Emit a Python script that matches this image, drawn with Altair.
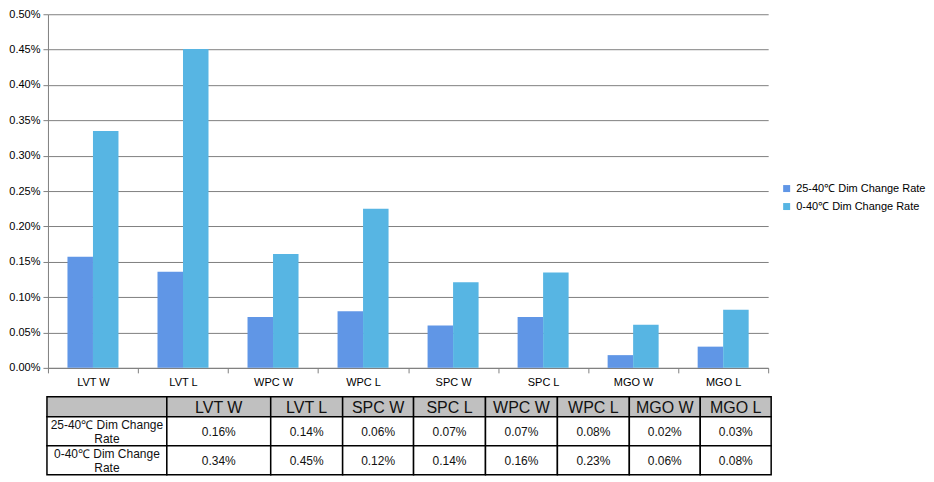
import altair as alt
import pandas as pd

# ---- data ----
categories = ["LVT W", "LVT L", "WPC W", "WPC L", "SPC W", "SPC L", "MGO W", "MGO L"]
series_names = ["25-40℃ Dim Change Rate", "0-40℃ Dim Change Rate"]
rate_25_40 = [0.157, 0.136, 0.072, 0.080, 0.060, 0.072, 0.018, 0.030]   # percent
rate_0_40 = [0.335, 0.451, 0.161, 0.225, 0.121, 0.135, 0.061, 0.082]    # percent
y_ticks = [0.0, 0.05, 0.10, 0.15, 0.20, 0.25, 0.30, 0.35, 0.40, 0.45, 0.50]

table_columns = ["LVT W", "LVT L", "SPC W", "SPC L", "WPC W", "WPC L", "MGO W", "MGO L"]
table_row_labels = ["25-40℃ Dim Change\nRate", "0-40℃ Dim Change\nRate"]
table_25_40 = [0.16, 0.14, 0.06, 0.07, 0.07, 0.08, 0.02, 0.03]
table_0_40 = [0.34, 0.45, 0.12, 0.14, 0.16, 0.23, 0.06, 0.08]

# ---- style ----
FONT = "Liberation Sans"
C1, C2 = "#6096E6", "#57B5E3"
GRID = "#808080"
col_widths = [120, 104, 72, 71, 72, 72, 72, 71, 71]
row_heights = [20, 29, 29]
shift = 1  # table starts this many px left of the plot origin

bars_df = pd.DataFrame({
    "category": categories * 2,
    "series": [series_names[0]] * len(categories) + [series_names[1]] * len(categories),
    "rate": rate_25_40 + rate_0_40,
})

bars = alt.Chart(bars_df).mark_bar().encode(
    x=alt.X("category:N", sort=categories,
            scale=alt.Scale(paddingInner=0, paddingOuter=0),
            axis=alt.Axis(title=None, labelAngle=0, tickBand="extent", tickSize=5,
                          labelPadding=4, domainColor=GRID, tickColor=GRID,
                          labelColor="black", labelFont=FONT, labelFontSize=11, grid=False)),
    xOffset=alt.XOffset("series:N", sort=series_names,
                        scale=alt.Scale(paddingInner=0, paddingOuter=0.765)),
    y=alt.Y("rate:Q", scale=alt.Scale(domain=[0, 0.5], nice=False, zero=True),
            axis=alt.Axis(title=None, values=y_ticks,
                          labelExpr="format(datum.value, '.2f') + '%'",
                          grid=True, gridColor=GRID, gridWidth=1, domainColor=GRID,
                          tickColor=GRID, tickSize=5, labelPadding=3,
                          labelColor="black", labelFont=FONT, labelFontSize=11)),
    color=alt.Color("series:N", sort=series_names,
                    scale=alt.Scale(domain=series_names, range=[C1, C2]),
                    legend=alt.Legend(title=None, orient="none", legendX=734, legendY=169,
                                      symbolType="square", symbolSize=49, symbolStrokeWidth=0,
                                      labelFontSize=11, labelFont=FONT, labelColor="black",
                                      labelOffset=4, rowPadding=6, padding=0)),
).properties(width=721, height=354)

# ---- table ----
x_edges = [0]
for w in col_widths:
    x_edges.append(x_edges[-1] + w)
y_edges = [0]
for h in row_heights:
    y_edges.append(y_edges[-1] + h)

cells = []
header_texts = [""] + table_columns
for j in range(len(col_widths)):
    cells.append(dict(x=x_edges[j], x2=x_edges[j + 1], y=y_edges[0], y2=y_edges[1],
                      cx=(x_edges[j] + x_edges[j + 1]) / 2, cy=(y_edges[0] + y_edges[1]) / 2,
                      kind="header", text=header_texts[j]))
for r, (label, vals) in enumerate(zip(table_row_labels, [table_25_40, table_0_40])):
    texts = [label] + [f"{v:.2f}%" for v in vals]
    for j in range(len(col_widths)):
        cells.append(dict(x=x_edges[j], x2=x_edges[j + 1], y=y_edges[r + 1], y2=y_edges[r + 2],
                          cx=(x_edges[j] + x_edges[j + 1]) / 2, cy=(y_edges[r + 1] + y_edges[r + 2]) / 2,
                          kind="label" if j == 0 else "value", text=texts[j]))
cells_df = pd.DataFrame(cells)

tx = alt.Scale(domain=[shift, x_edges[-1]], nice=False, zero=False)
ty = alt.Scale(domain=[0, y_edges[-1]], nice=False, zero=False, reverse=True)

base = alt.Chart(cells_df)
rects = base.mark_rect(stroke="black", strokeWidth=1.5).encode(
    x=alt.X("x:Q", scale=tx, axis=None), x2="x2:Q",
    y=alt.Y("y:Q", scale=ty, axis=None), y2="y2:Q",
    fill=alt.condition(alt.datum.kind == "header", alt.value("#C0C0C0"), alt.value("white")),
)
header_text = base.transform_filter(alt.datum.kind == "header").mark_text(
    font=FONT, fontSize=16, color="#111111", align="center", baseline="middle", dy=1
).encode(x=alt.X("cx:Q", scale=tx), y=alt.Y("cy:Q", scale=ty), text="text:N")
value_text = base.transform_filter(alt.datum.kind == "value").mark_text(
    font=FONT, fontSize=12, color="#111111", align="center", baseline="middle", dy=1
).encode(x=alt.X("cx:Q", scale=tx), y=alt.Y("cy:Q", scale=ty), text="text:N")
label_text = base.transform_filter(alt.datum.kind == "label").mark_text(
    font=FONT, fontSize=12, color="#111111", align="center", baseline="middle",
    lineBreak="\n", lineHeight=14, dy=-6
).encode(x=alt.X("cx:Q", scale=tx), y=alt.Y("cy:Q", scale=ty), text="text:N")

table = alt.layer(rects, header_text, value_text, label_text).properties(
    width=x_edges[-1] - shift, height=y_edges[-1])

chart = alt.vconcat(bars, table, spacing=8).properties(padding=0).configure(
    font=FONT).configure_view(strokeWidth=0, stroke=None)

chart.save("out.html", embed_options={"renderer": "svg", "actions": False})
